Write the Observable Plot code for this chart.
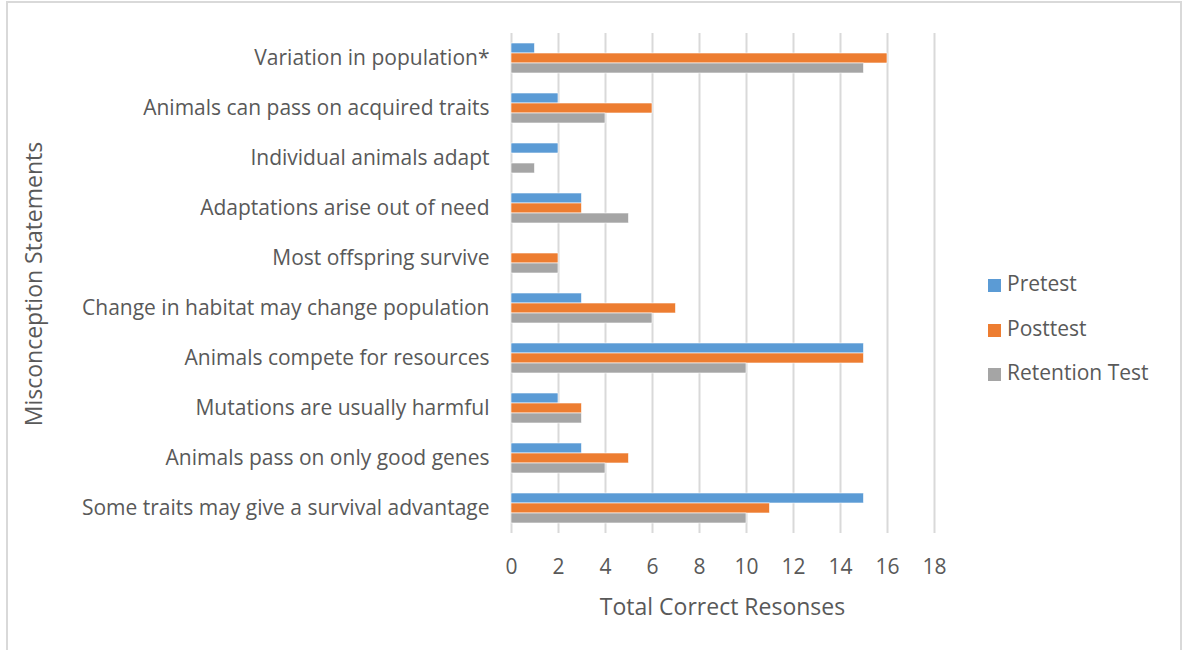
<!DOCTYPE html>
<html>
<head>
<meta charset="utf-8">
<script src="https://cdn.jsdelivr.net/npm/d3@7"></script>
<script src="https://cdn.jsdelivr.net/npm/@observablehq/plot@0.6"></script>
<style>
  html, body { margin: 0; padding: 0; background: #fff; }
  #wrap { position: relative; width: 1189px; height: 650px; overflow: hidden; font-family: "Open Sans", sans-serif; color: #595959; }
  #border { position: absolute; left: 6px; top: 1px; width: 1176px; height: 700px; border: 2px solid #d9d9d9; box-sizing: border-box; }
  #chart { position: absolute; left: 0; top: 0; }
  #legend { position: absolute; left: 988px; top: 270px; font-size: 21px; }
  .item { position: absolute; white-space: nowrap; height: 26px; line-height: 26px; }
  .sw { display: inline-block; width: 13px; height: 13px; margin-right: 6px; vertical-align: -1px; }
  .title { position: absolute; font-size: 23px; white-space: nowrap; line-height: 1; }
  #xtitle { left: 722.5px; top: 606px; transform: translate(-50%, -50%); }
  #ytitle { left: 33px; top: 284px; transform: translate(-50%, -50%) rotate(-90deg); }
</style>
</head>
<body>
<div id="wrap">
  <div id="border"></div>
  <div id="chart"></div>
  <div id="legend"></div>
  <div class="title" id="xtitle">Total Correct Resonses</div>
  <div class="title" id="ytitle">Misconception Statements</div>
</div>
<script>
const categories = [
  "Variation in population*",
  "Animals can pass on acquired traits",
  "Individual animals adapt",
  "Adaptations arise out of need",
  "Most offspring survive",
  "Change in habitat may change population",
  "Animals compete for resources",
  "Mutations are usually harmful",
  "Animals pass on only good genes",
  "Some traits may give a survival advantage"
];
const series = ["Pretest", "Posttest", "Retention Test"];
const pretest   = [1, 2, 2, 3, 0, 3, 15, 2, 3, 15];
const posttest  = [16, 6, 0, 3, 2, 7, 15, 3, 5, 11];
const retention = [15, 4, 1, 5, 2, 6, 10, 3, 4, 10];
const colors = ["#5B9BD5", "#ED7D31", "#A5A5A5"];
const xTicks = [0, 2, 4, 6, 8, 10, 12, 14, 16, 18];

const values = [pretest, posttest, retention];
const data = [];
categories.forEach((c, i) => {
  series.forEach((s, j) => data.push({category: c, series: s, value: values[j][i]}));
});

const chart = Plot.plot({
  width: 1189,
  height: 650,
  marginLeft: 511,
  marginRight: 255,
  marginTop: 31,
  marginBottom: 116,
  style: {fontFamily: "'Open Sans', sans-serif", color: "#595959", background: "transparent"},
  fy: {domain: categories, padding: 0, axis: null},
  y: {domain: series, paddingInner: 0, paddingOuter: 1, axis: null},
  x: {domain: [0, 18], axis: null},
  color: {domain: series, range: colors},
  marks: [
    Plot.ruleX(xTicks, {x: d => d, stroke: "#d9d9d9", strokeWidth: 2}),
    Plot.barX(data, {x: "value", y: "series", fy: "category", fill: "series", stroke: "white", strokeWidth: 0.6}),
    Plot.axisFy({anchor: "left", tickSize: 0, tickPadding: 22, fontSize: 21, label: null}),
    Plot.axisX({ticks: xTicks, tickSize: 0, tickPadding: 26, fontSize: 21, tickFormat: d => String(d), label: null})
  ]
});
document.getElementById("chart").appendChild(chart);

const legend = document.getElementById("legend");
series.forEach((s, j) => {
  const item = document.createElement("div");
  item.className = "item";
  item.style.top = (j * 44.5) + "px";
  item.innerHTML = `<span class="sw" style="background:${colors[j]}"></span>${s}`;
  legend.appendChild(item);
});
</script>
</body>
</html>
